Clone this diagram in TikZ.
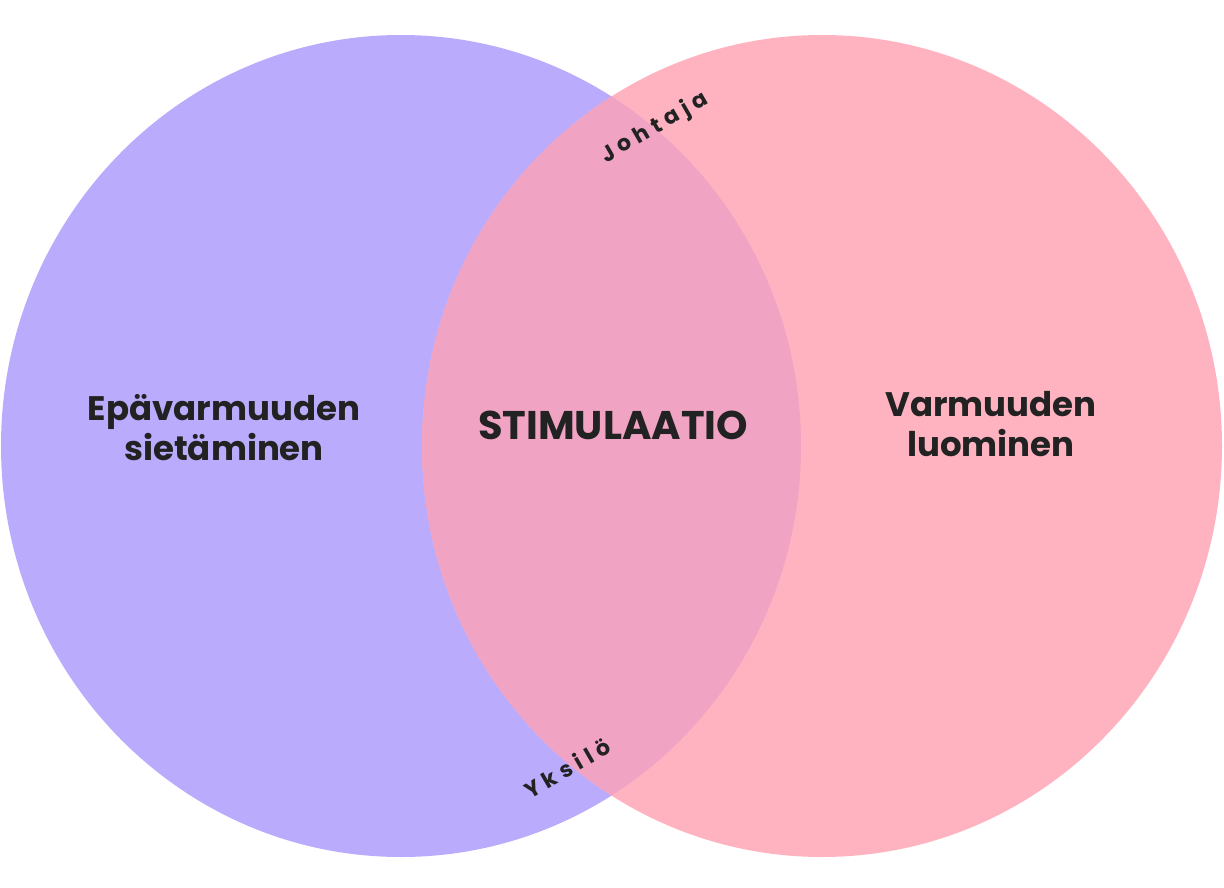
\documentclass[tikz,border=0pt]{standalone}
\usepackage{fontspec}
\setmainfont{Poppins}
\newfontfamily\spaced[LetterSpace=25]{Poppins}
\definecolor{lc}{HTML}{BAABFD}
\definecolor{rc}{HTML}{FFB3C1}
\definecolor{oc}{HTML}{F1A3C3}
\definecolor{tc}{HTML}{222222}
\begin{document}
\begin{tikzpicture}[x=1pt,y=-1pt,
  big/.style={font=\bfseries\fontsize{34}{40}\selectfont,text=tc,align=center},
  small/.style={font=\spaced\bfseries\fontsize{22}{24}\selectfont,text=tc,rotate=30}]
\useasboundingbox (0,0) rectangle (1224,888);
\fill[lc] (401,446) ellipse [x radius=400, y radius=411];
\fill[rc] (822,446) ellipse [x radius=400, y radius=411];
\begin{scope}
\clip (401,446) ellipse [x radius=400, y radius=411];
\fill[oc] (822,446) ellipse [x radius=400, y radius=411];
\end{scope}
\node[big] (l) at (224,428) {Epävarmuuden\\sietäminen};
\node[big] (r) at (991,424) {Varmuuden\\luominen};
\node[big,font=\bfseries\fontsize{40}{44}\selectfont] (m) at (613,425) {STIMULAATIO};
\node[small] (j) at (655,128) {Johtaja};
\node[small] (y) at (567,768) {Yksilö};
\end{tikzpicture}
\end{document}
